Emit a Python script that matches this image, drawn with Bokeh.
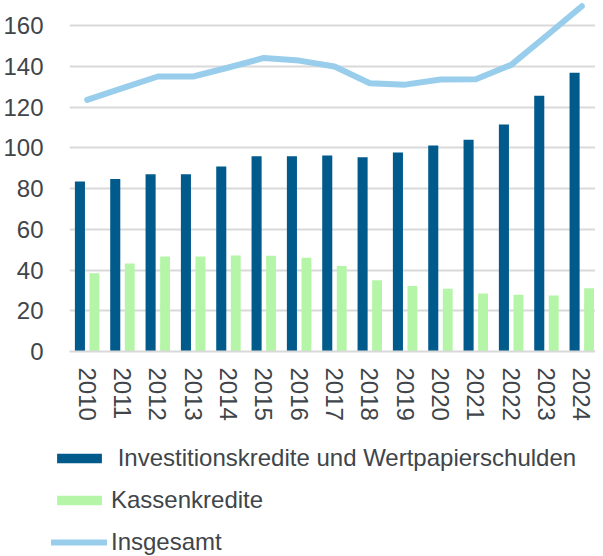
from bokeh.plotting import figure
from bokeh.models import ColumnDataSource, Range1d, FixedTicker, Legend, LegendItem
from bokeh.layouts import column
from bokeh.transform import dodge
from bokeh.embed import file_html
from bokeh.resources import INLINE

years = ["2010", "2011", "2012", "2013", "2014", "2015", "2016", "2017",
         "2018", "2019", "2020", "2021", "2022", "2023", "2024"]
investitionskredite = [83.4, 84.7, 87.0, 87.0, 90.8, 95.9, 95.9, 96.2,
                       95.4, 97.7, 101.1, 103.9, 111.4, 125.5, 136.8]
kassenkredite = [38.4, 43.2, 46.6, 46.6, 47.1, 47.0, 46.0, 42.0,
                 35.0, 32.2, 30.8, 28.5, 27.8, 27.5, 31.1]
insgesamt = [123.5, 129.3, 135.0, 135.0, 139.4, 144.1, 142.8, 139.9,
             131.7, 131.0, 133.5, 133.6, 140.7, 155.0, 169.5]
y_ticks = [0, 20, 40, 60, 80, 100, 120, 140, 160]
series_labels = ["\u00a0Investitionskredite und Wertpapierschulden",
                 "Kassenkredite", "Insgesamt"]

idx = list(range(len(years)))
src = ColumnDataSource(dict(idx=idx, year=years, inv=investitionskredite,
                            kas=kassenkredite, ges=insgesamt))

FONT = "Liberation Sans"
TXT = "#404549"
DARK = "#005A8C"
GREEN = "#B5F5A8"
LIGHT = "#98CEEC"
GRID = "#D9D9D9"

p = figure(width=595, height=430, output_backend="svg", toolbar_location=None,
           x_range=Range1d(-0.5, 14.387), y_range=Range1d(0, 172.3),
           min_border_left=61, min_border_right=0, min_border_top=0,
           min_border_bottom=79)
p.frame_align = False
p.outline_line_color = None
p.background_fill_color = "white"
p.border_fill_color = "white"

p.vbar(x=dodge("idx", -0.205), top="inv", width=0.285, source=src,
       fill_color=DARK, line_color=None)
p.vbar(x=dodge("idx", 0.205), top="kas", width=0.28, source=src,
       fill_color=GREEN, line_color=None)
p.line(x="idx", y="ges", source=src, line_color=LIGHT, line_width=6,
       line_cap="round", line_join="round")

p.xgrid.visible = False
p.ygrid.grid_line_color = GRID
p.ygrid.grid_line_width = 2
p.ygrid.ticker = FixedTicker(ticks=y_ticks)

p.yaxis.ticker = FixedTicker(ticks=y_ticks)
p.yaxis.axis_line_color = None
p.yaxis.major_tick_line_color = None
p.yaxis.minor_tick_line_color = None
p.yaxis.major_label_standoff = 20
p.yaxis.major_label_text_font = FONT
p.yaxis.major_label_text_font_size = "24px"
p.yaxis.major_label_text_color = TXT

p.xaxis.ticker = FixedTicker(ticks=idx)
p.xaxis.major_label_overrides = {i: y for i, y in zip(idx, years)}
p.xaxis.major_label_orientation = "vertical"
p.xaxis.axis_line_color = GRID
p.xaxis.axis_line_width = 2
p.xaxis.major_tick_line_color = None
p.xaxis.minor_tick_line_color = None
p.xaxis.major_label_standoff = 10
p.xaxis.major_label_text_font = FONT
p.xaxis.major_label_text_font_size = "24px"
p.xaxis.major_label_text_color = TXT

# legend panel
lg = figure(width=595, height=126, output_backend="svg", toolbar_location=None,
            x_range=Range1d(0, 1), y_range=Range1d(0, 1),
            x_axis_type=None, y_axis_type=None,
            min_border_left=0, min_border_right=0, min_border_top=0,
            min_border_bottom=0)
lg.frame_align = False
lg.outline_line_color = None
lg.grid.visible = False
off = ColumnDataSource(dict(x=[-10, -9], y=[-10, -10]))
d_inv = lg.vbar(x="x", top="y", width=0.1, source=off, fill_color=DARK, line_color=None)
d_kas = lg.vbar(x="x", top="y", width=0.1, source=off, fill_color=GREEN, line_color=None)
d_ges = lg.line(x="x", y="y", source=off, line_color=LIGHT, line_width=6, line_cap="round")

legend = Legend(items=[
    LegendItem(label=series_labels[0], renderers=[d_inv], index=0),
    LegendItem(label=series_labels[1], renderers=[d_kas], index=0),
    LegendItem(label=series_labels[2], renderers=[d_ges], index=0),
], location=(51, 0), orientation="vertical",
    glyph_width=56, glyph_height=12, label_height=28, label_standoff=4,
    spacing=14, padding=0, margin=0, border_line_color=None,
    background_fill_alpha=0, label_text_font=FONT,
    label_text_font_size="24px", label_text_color=TXT)
lg.add_layout(legend, "center")

layout = column(p, lg, spacing=0)
open("out.html", "w").write(file_html(layout, INLINE))
